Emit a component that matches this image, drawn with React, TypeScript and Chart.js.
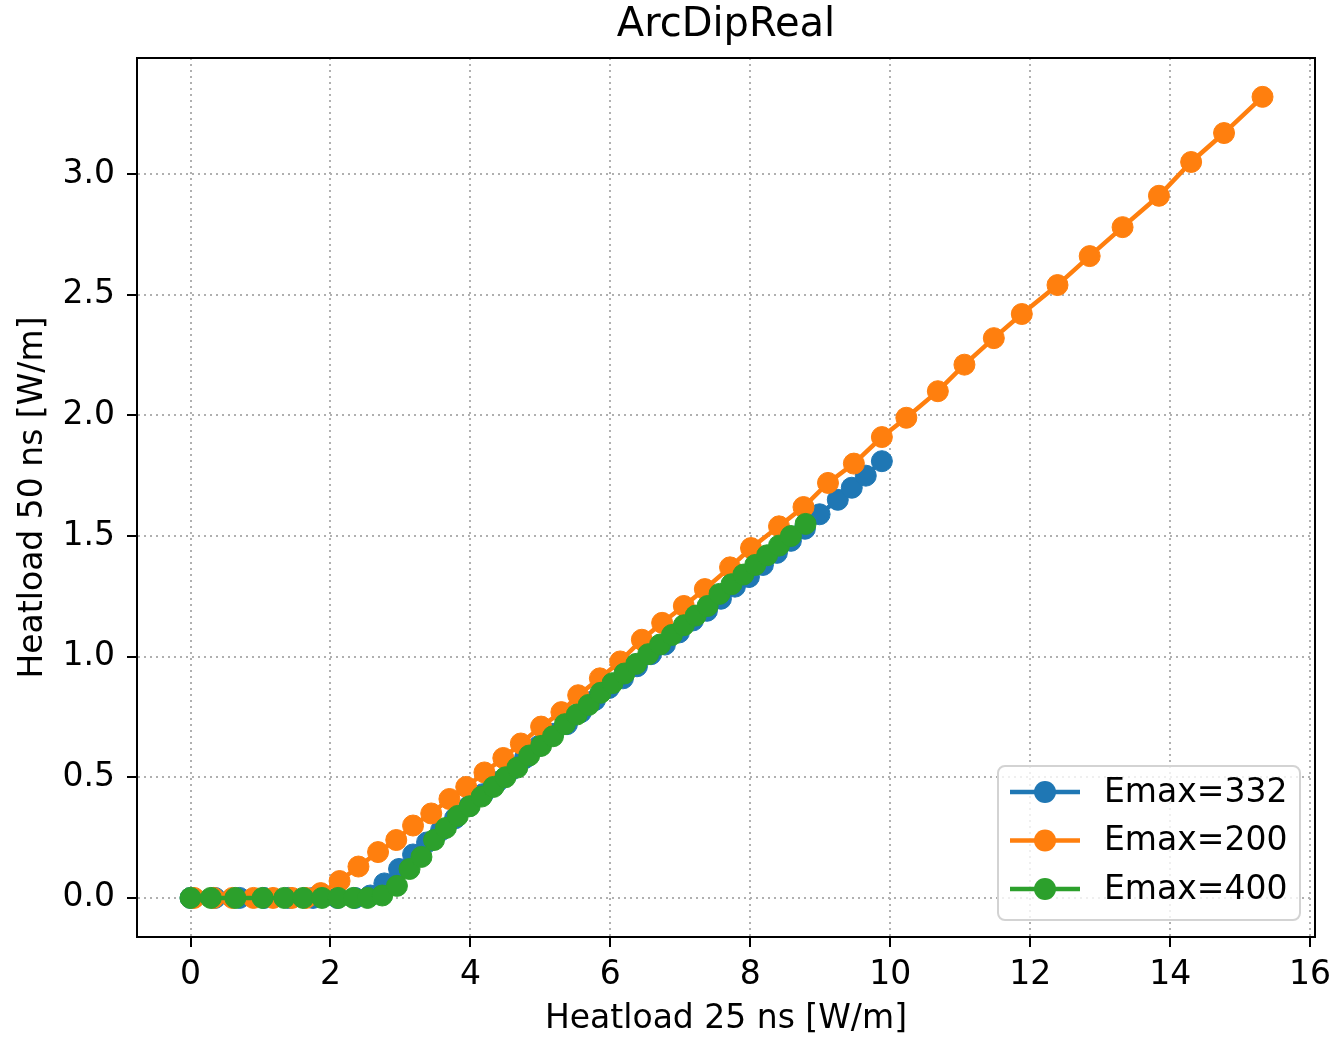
import React, { useEffect, useRef } from "react";
import { Chart, registerables } from "chart.js";

Chart.register(...registerables);

const FONT = "'DejaVu Sans', sans-serif";

const seriesLabels = ["Emax=332", "Emax=200", "Emax=400"];
const seriesColors = ["#1f77b4", "#ff7f0e", "#2ca02c"];

const blueX = [0, 0.35, 0.7, 1.05, 1.4, 1.75, 2.1, 2.35, 2.57, 2.77, 2.98, 3.18, 3.38, 3.58, 3.78, 3.98, 4.18, 4.38, 4.58, 4.78, 4.98, 5.18, 5.38, 5.58, 5.78, 5.98, 6.18, 6.38, 6.58, 6.78, 6.98, 7.18, 7.38, 7.58, 7.78, 7.98, 8.18, 8.38, 8.58, 8.78, 8.99, 9.25, 9.45, 9.65, 9.88];
const blueY = [0, 0, 0, 0, 0, 0, 0, 0, 0.01, 0.06, 0.12, 0.18, 0.23, 0.28, 0.33, 0.38, 0.43, 0.48, 0.53, 0.58, 0.63, 0.68, 0.72, 0.77, 0.82, 0.87, 0.91, 0.96, 1.01, 1.05, 1.1, 1.15, 1.19, 1.24, 1.29, 1.33, 1.38, 1.43, 1.48, 1.53, 1.59, 1.65, 1.7, 1.75, 1.81];

const orangeX = [0.05, 0.33, 0.6, 0.9, 1.18, 1.45, 1.65, 1.86, 2.13, 2.4, 2.68, 2.94, 3.18, 3.44, 3.7, 3.94, 4.2, 4.47, 4.72, 5.01, 5.3, 5.54, 5.85, 6.14, 6.45, 6.74, 7.05, 7.35, 7.71, 8.01, 8.41, 8.76, 9.11, 9.48, 9.88, 10.23, 10.68, 11.06, 11.48, 11.88, 12.39, 12.85, 13.32, 13.84, 14.3, 14.77, 15.32];
const orangeY = [0, 0, 0, 0, 0, 0, 0, 0.02, 0.07, 0.13, 0.19, 0.24, 0.3, 0.35, 0.41, 0.46, 0.52, 0.58, 0.64, 0.71, 0.77, 0.84, 0.91, 0.98, 1.07, 1.14, 1.21, 1.28, 1.37, 1.45, 1.54, 1.62, 1.72, 1.8, 1.91, 1.99, 2.1, 2.21, 2.32, 2.42, 2.54, 2.66, 2.78, 2.91, 3.05, 3.17, 3.32];

const greenX = [0, 0.29, 0.64, 1.03, 1.34, 1.61, 1.88, 2.11, 2.33, 2.53, 2.74, 2.95, 3.13, 3.3, 3.48, 3.65, 3.82, 3.99, 4.16, 4.33, 4.5, 4.67, 4.84, 5.01, 5.18, 5.35, 5.52, 5.69, 5.86, 6.03, 6.2, 6.37, 6.54, 6.71, 6.88, 7.05, 7.22, 7.39, 7.56, 7.73, 7.9, 8.07, 8.24, 8.41, 8.58, 8.79];
const greenY = [0, 0, 0, 0, 0, 0, 0, 0, 0, 0, 0.01, 0.05, 0.12, 0.17, 0.24, 0.29, 0.34, 0.38, 0.42, 0.46, 0.5, 0.54, 0.59, 0.63, 0.67, 0.72, 0.76, 0.8, 0.85, 0.89, 0.93, 0.97, 1.01, 1.05, 1.09, 1.13, 1.17, 1.21, 1.26, 1.3, 1.34, 1.38, 1.42, 1.46, 1.5, 1.55];

const xTickStep = 2;
const yTickStep = 0.5;

const toPoints = (xs: number[], ys: number[]) => xs.map((x, i) => ({ x, y: ys[i] }));

const framePlugin = {
  id: "frame",
  afterDraw(chart: any) {
    const { ctx, chartArea } = chart;
    ctx.save();
    ctx.setLineDash([]);
    ctx.strokeStyle = "#000";
    ctx.lineWidth = 2;
    ctx.strokeRect(chartArea.left, chartArea.top, chartArea.right - chartArea.left, chartArea.bottom - chartArea.top);
    ctx.restore();
  },
};

const legendPlugin = {
  id: "innerLegend",
  afterDraw(chart: any) {
    const { ctx, chartArea } = chart;
    const w = 302;
    const h = 154;
    const x0 = chartArea.right - 15 - w;
    const y0 = chartArea.bottom - 17 - h;
    ctx.save();
    ctx.setLineDash([]);
    ctx.beginPath();
    ctx.roundRect(x0, y0, w, h, 7);
    ctx.fillStyle = "rgba(255,255,255,0.8)";
    ctx.fill();
    ctx.strokeStyle = "#d3d3d3";
    ctx.lineWidth = 2;
    ctx.stroke();
    chart.data.datasets.forEach((ds: any, i: number) => {
      const y = y0 + 26 + i * 48.5;
      ctx.strokeStyle = ds.borderColor;
      ctx.lineWidth = 4.5;
      ctx.beginPath();
      ctx.moveTo(x0 + 12, y);
      ctx.lineTo(x0 + 82, y);
      ctx.stroke();
      ctx.fillStyle = ds.backgroundColor;
      ctx.beginPath();
      ctx.arc(x0 + 47, y, 11, 0, Math.PI * 2);
      ctx.fill();
      ctx.fillStyle = "#000";
      ctx.font = `33px ${FONT}`;
      ctx.textBaseline = "middle";
      ctx.textAlign = "left";
      ctx.fillText(ds.label, x0 + 106, y + 1);
    });
    ctx.restore();
  },
};

const gridOpts = {
  color: "#b0b0b0",
  lineWidth: 2,
  tickBorderDash: [],
  tickColor: "#000",
  tickWidth: 2,
  tickLength: 10,
};

export default function App() {
  const ref = useRef<HTMLCanvasElement>(null);
  useEffect(() => {
    const seriesData = [toPoints(blueX, blueY), toPoints(orangeX, orangeY), toPoints(greenX, greenY)];
    const orders = [3, 2, 1];
    const chart = new Chart(ref.current as HTMLCanvasElement, {
      type: "line",
      data: {
        datasets: seriesData.map((d, i) => ({
          label: seriesLabels[i],
          data: d,
          borderColor: seriesColors[i],
          backgroundColor: seriesColors[i],
          pointBackgroundColor: seriesColors[i],
          pointBorderColor: seriesColors[i],
          pointRadius: 10.5,
          pointBorderWidth: 1,
          borderWidth: 4.5,
          fill: false,
          tension: 0,
          order: orders[i],
        })),
      },
      options: {
        animation: false,
        responsive: false,
        maintainAspectRatio: false,
        layout: { padding: { left: 0, right: 22, top: 0, bottom: 0 } },
        plugins: {
          legend: { display: false },
          tooltip: { enabled: false },
          title: {
            display: true,
            fullSize: false,
            text: "ArcDipReal",
            color: "#000",
            font: { family: FONT, size: 40, weight: "normal" },
            padding: { top: 2, bottom: 8 },
          },
        },
        scales: {
          x: {
            type: "linear",
            min: -0.765,
            max: 16.07,
            afterFit(scale: any) {
              scale.height = 102;
              scale.paddingLeft = 0;
              scale.paddingRight = 0;
            },
            ticks: {
              stepSize: xTickStep,
              includeBounds: false,
              color: "#000",
              font: { family: FONT, size: 33 },
              padding: 9,
              maxRotation: 0,
              callback: (v: any) => String(v),
            },
            grid: gridOpts,
            border: { display: true, color: "#000", width: 2, dash: [2, 4] },
            title: {
              display: true,
              text: "Heatload 25 ns [W/m]",
              color: "#000",
              font: { family: FONT, size: 33 },
              padding: { top: 0, bottom: 0 },
            },
          },
          y: {
            type: "linear",
            min: -0.162,
            max: 3.481,
            afterFit(scale: any) {
              scale.width = 137;
              scale.paddingTop = 0;
              scale.paddingBottom = 0;
            },
            ticks: {
              stepSize: yTickStep,
              includeBounds: false,
              color: "#000",
              font: { family: FONT, size: 33 },
              padding: 12,
              callback: (v: any) => Number(v).toFixed(1),
            },
            grid: gridOpts,
            border: { display: true, color: "#000", width: 2, dash: [2, 4] },
            title: {
              display: true,
              text: "Heatload 50 ns [W/m]",
              color: "#000",
              font: { family: FONT, size: 33 },
              padding: { top: 14, bottom: 0 },
            },
          },
        },
      } as any,
      plugins: [framePlugin, legendPlugin],
    });
    return () => chart.destroy();
  }, []);
  return (
    <div style={{ position: "absolute", left: 0, top: 0, width: 1337, height: 1039, background: "#fff" }}>
      <canvas ref={ref} width={1337} height={1039} style={{ display: "block" }} />
    </div>
  );
}
